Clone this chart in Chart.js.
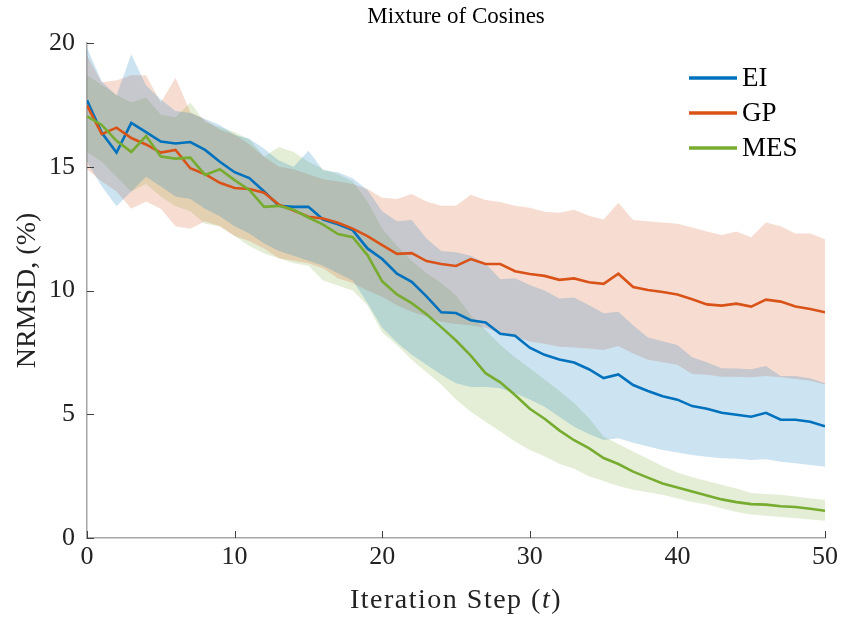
<!DOCTYPE html>
<html>
<head>
<meta charset="utf-8">
<script src="https://cdn.jsdelivr.net/npm/chart.js@4.4.1/dist/chart.umd.min.js"></script>
<style>
  html, body { margin: 0; padding: 0; background: #fff; }
  #wrap { width: 842px; height: 619px; }
</style>
</head>
<body>
<div id="wrap"><canvas id="nrmsdChart" width="842" height="619"></canvas></div>
<script>
// iteration steps 0..50
const steps = [0,1,2,3,4,5,6,7,8,9,10,11,12,13,14,15,16,17,18,19,20,21,22,23,24,25,26,27,28,29,30,31,32,33,34,35,36,37,38,39,40,41,42,43,44,45,46,47,48,49,50];
const xTicks = [0, 10, 20, 30, 40, 50];
const yTicks = [0, 5, 10, 15, 20];
const seriesNames = ["EI", "GP", "MES"];

// EI
const eiMean = [17.69,16.37,15.57,16.77,16.4,16.02,15.94,16.0,15.68,15.2,14.78,14.54,14.0,13.42,13.38,13.38,12.87,12.68,12.44,11.7,11.27,10.68,10.35,9.76,9.12,9.09,8.8,8.71,8.25,8.17,7.69,7.4,7.21,7.09,6.82,6.46,6.61,6.18,5.94,5.73,5.59,5.33,5.22,5.06,4.98,4.9,5.06,4.78,4.78,4.7,4.51];
const eiUpper = [19.8,18.44,17.88,19.55,18.28,17.72,17.25,17.17,16.93,16.69,16.29,16.13,15.73,15.25,15.0,15.65,14.86,14.78,14.54,14.06,13.2,12.8,12.85,12.1,11.6,11.55,11.4,11.1,10.45,10.5,10.22,10.0,9.68,9.72,9.41,9.08,9.14,8.6,8.1,7.95,7.8,7.3,7.1,6.86,6.85,6.82,6.95,6.55,6.55,6.45,6.25];
const eiLower = [15.2,14.2,13.4,14.0,14.6,14.2,13.8,13.7,13.3,13.0,12.6,12.3,11.9,11.6,11.4,11.2,11.0,10.7,10.4,9.5,8.5,7.9,7.4,7.0,6.6,6.25,6.1,6.1,6.05,5.85,5.6,5.3,4.9,4.5,4.2,3.96,4.03,3.85,3.7,3.56,3.45,3.35,3.28,3.22,3.2,3.15,3.18,3.08,3.02,2.95,2.88];

// GP
const gpMean = [17.48,16.32,16.58,16.16,15.9,15.57,15.68,14.94,14.7,14.35,14.14,14.1,13.95,13.47,13.23,12.98,12.91,12.74,12.5,12.2,11.83,11.48,11.51,11.19,11.07,10.99,11.27,11.07,11.07,10.78,10.67,10.59,10.43,10.49,10.33,10.27,10.68,10.14,10.02,9.94,9.84,9.65,9.44,9.39,9.47,9.35,9.63,9.55,9.35,9.25,9.12];
const gpUpper = [19.5,18.4,18.5,18.7,18.7,17.6,18.6,17.2,16.9,16.5,16.3,15.9,15.4,15.0,14.9,14.7,14.5,14.4,14.3,14.1,13.75,13.7,13.9,13.6,13.42,13.42,13.87,13.66,13.58,13.42,13.34,13.18,13.14,13.26,13.02,12.87,13.55,12.85,12.8,12.75,12.7,12.55,12.38,12.24,12.38,12.15,12.75,12.6,12.3,12.3,12.07];
const gpLower = [14.9,14.4,14.0,13.3,13.6,13.3,12.6,12.5,12.8,12.6,12.2,12.0,11.7,11.3,11.2,11.1,10.9,10.5,10.3,10.0,9.75,9.4,9.14,8.95,8.74,8.65,8.6,8.5,8.28,8.13,7.94,7.85,7.73,7.7,7.66,7.6,7.76,7.45,7.2,7.1,7.0,6.63,6.6,6.52,6.52,6.5,6.55,6.5,6.42,6.35,6.2];

// MES
const mesMean = [17.04,16.69,16.05,15.6,16.24,15.41,15.33,15.37,14.67,14.9,14.46,14.06,13.38,13.42,13.26,12.95,12.66,12.28,12.15,11.43,10.37,9.84,9.49,9.04,8.52,7.98,7.37,6.66,6.29,5.78,5.22,4.82,4.35,3.95,3.63,3.23,2.99,2.68,2.44,2.2,2.04,1.88,1.72,1.56,1.45,1.37,1.35,1.28,1.25,1.18,1.1];
const mesUpper = [18.7,18.3,17.9,17.6,17.8,17.1,17.0,17.6,16.8,16.6,16.4,16.1,15.4,15.8,15.6,15.2,14.9,14.7,14.4,13.6,12.5,11.8,11.2,10.7,10.3,9.8,9.0,8.4,7.8,7.3,6.86,6.4,5.95,5.45,4.85,4.1,3.8,3.5,3.2,2.9,2.65,2.45,2.3,2.15,2.0,1.82,1.78,1.75,1.68,1.6,1.55];
const mesLower = [15.6,15.2,14.6,14.0,14.3,13.8,13.4,13.2,12.7,12.6,12.2,11.8,11.5,11.3,11.1,11.0,10.4,10.2,10.0,9.4,8.3,7.8,7.2,6.7,6.2,5.6,5.1,4.7,4.3,3.9,3.56,3.3,3.0,2.8,2.5,2.3,2.1,1.95,1.85,1.75,1.6,1.45,1.35,1.2,1.05,0.95,0.9,0.85,0.8,0.75,0.7];

const lineColors = ["#0072BD", "#D95319", "#77AC30"];
const bandColors = ["rgba(0,114,189,0.2)", "rgba(217,83,25,0.2)", "rgba(119,172,48,0.2)"];
const serif = "'Liberation Serif', 'Times New Roman', serif";
const chartTitle = "Mixture of Cosines";

const toPoints = arr => steps.map((t, i) => ({ x: t, y: arr[i] }));

const means = [eiMean, gpMean, mesMean];
const uppers = [eiUpper, gpUpper, mesUpper];
const lowers = [eiLower, gpLower, mesLower];

const datasets = [];
// shaded bands first (drawn underneath)
for (let s = 0; s < 3; s++) {
    datasets.push({
        label: seriesNames[s] + " upper",
        data: toPoints(uppers[s]),
        borderWidth: 0,
        pointRadius: 0,
        backgroundColor: bandColors[s],
        fill: "+1",
        order: 10 + s
    });
    datasets.push({
        label: seriesNames[s] + " lower",
        data: toPoints(lowers[s]),
        borderWidth: 0,
        pointRadius: 0,
        fill: false,
        order: 10 + s
    });
}
// mean lines, MES on top
for (let s = 0; s < 3; s++) {
    datasets.push({
        label: seriesNames[s],
        data: toPoints(means[s]),
        borderColor: lineColors[s],
        borderWidth: 2.6,
        pointRadius: 0,
        fill: false,
        tension: 0,
        order: 3 - s
    });
}

// ticks pointing into the plot, like matlab
const inwardTicks = {
    id: "inwardTicks",
    afterDraw(chart) {
        const { ctx, chartArea, scales } = chart;
        ctx.save();
        ctx.strokeStyle = "#404040";
        ctx.lineWidth = 1;
        ctx.beginPath();
        xTicks.forEach(v => {
            const px = Math.round(scales.x.getPixelForValue(v)) + 0.5;
            ctx.moveTo(px, chartArea.bottom);
            ctx.lineTo(px, chartArea.bottom - 7);
        });
        yTicks.forEach(v => {
            const py = Math.round(scales.y.getPixelForValue(v)) + 0.5;
            ctx.moveTo(chartArea.left, py);
            ctx.lineTo(chartArea.left + 7, py);
        });
        ctx.stroke();
        ctx.restore();
    }
};

// title over the plot area and x title with an italic t
const titles = {
    id: "titles",
    afterDraw(chart) {
        const { ctx, chartArea } = chart;
        const cx = (chartArea.left + chartArea.right) / 2;
        ctx.save();
        ctx.fillStyle = "#000";
        ctx.textBaseline = "middle";
        ctx.textAlign = "center";
        ctx.font = "23px " + serif;
        ctx.fillText(chartTitle, cx, 17);

        ctx.textAlign = "left";
        ctx.fillStyle = "#222";
        ctx.letterSpacing = "1.5px";
        const roman = "28px " + serif;
        const italic = "italic 28px " + serif;
        const parts = [["Iteration Step (", roman], ["t", italic], [")", roman]];
        let total = 0;
        parts.forEach(p => { ctx.font = p[1]; total += ctx.measureText(p[0]).width; });
        let x = cx - total / 2;
        parts.forEach(p => {
            ctx.font = p[1];
            ctx.fillText(p[0], x, 601);
            x += ctx.measureText(p[0]).width;
        });
        ctx.restore();
    }
};

// legend in the top right corner, no box
const cornerLegend = {
    id: "cornerLegend",
    afterDraw(chart) {
        const { ctx } = chart;
        ctx.save();
        ctx.font = "27px " + serif;
        ctx.textBaseline = "middle";
        ctx.fillStyle = "#000";
        seriesNames.forEach((name, i) => {
            const y = 78 + i * 35;
            ctx.strokeStyle = lineColors[i];
            ctx.lineWidth = 3.5;
            ctx.beginPath();
            ctx.moveTo(689, y);
            ctx.lineTo(737, y);
            ctx.stroke();
            ctx.fillText(name, 742, y + 1);
        });
        ctx.restore();
    }
};

new Chart(document.getElementById("nrmsdChart"), {
    type: "line",
    data: { datasets: datasets },
    plugins: [inwardTicks, titles, cornerLegend],
    options: {
        responsive: false,
        animation: false,
        layout: { padding: { left: 0, right: 16, top: 43, bottom: 0 } },
        plugins: {
            legend: { display: false },
            tooltip: { enabled: false },
            title: { display: false },
            filler: { propagate: false }
        },
        scales: {
            x: {
                type: "linear",
                min: 0,
                max: 50,
                afterBuildTicks: scale => { scale.ticks = xTicks.map(v => ({ value: v })); },
                afterFit: scale => { scale.height = 81; },
                grid: { display: true, drawOnChartArea: false, drawTicks: false },
                border: { display: true, color: "#a6a6a6", width: 1.5 },
                ticks: {
                    color: "#222",
                    padding: 4,
                    maxRotation: 0,
                    font: { family: serif, size: 26 }
                },
                title: { display: false }
            },
            y: {
                type: "linear",
                min: 0,
                max: 20,
                afterBuildTicks: scale => { scale.ticks = yTicks.map(v => ({ value: v })); },
                afterFit: scale => { scale.width = 87; },
                grid: { display: true, drawOnChartArea: false, drawTicks: false },
                border: { display: true, color: "#a6a6a6", width: 1.5 },
                ticks: {
                    color: "#222",
                    padding: 12,
                    font: { family: serif, size: 26 }
                },
                title: {
                    display: true,
                    text: "NRMSD, (%)",
                    color: "#222",
                    font: { family: serif, size: 28 },
                    padding: { top: 11, bottom: 0 }
                }
            }
        }
    }
});
</script>
</body>
</html>
